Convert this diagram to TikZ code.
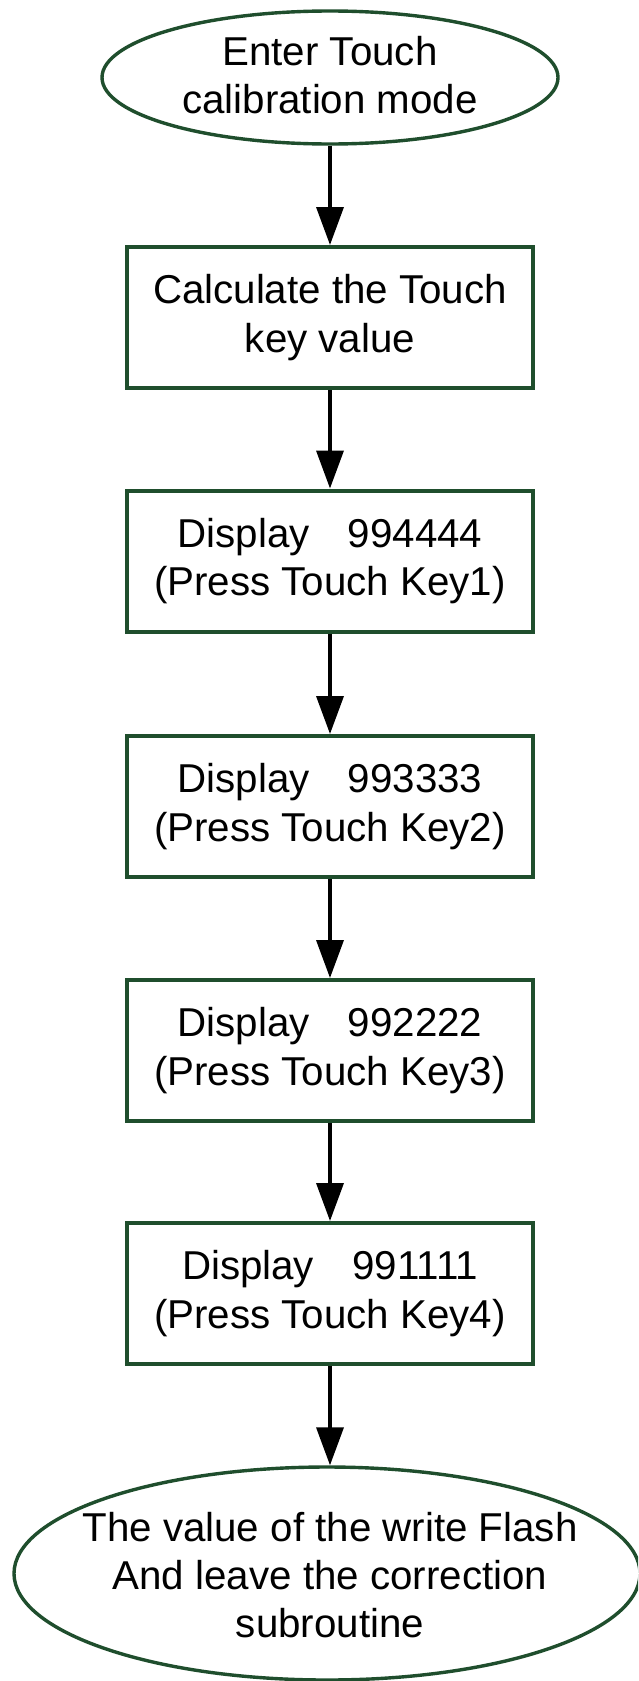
\documentclass[tikz,border=0pt]{standalone}
\usepackage{fontspec}
\setmainfont{Liberation Sans}
\usetikzlibrary{shapes.geometric,arrows.meta}
\definecolor{boxgreen}{RGB}{31,78,45}
\begin{document}
\begin{tikzpicture}[x=1pt,y=-1pt,
  stepbox/.style={draw=boxgreen,line width=4pt,rectangle,minimum width=406pt,minimum height=141pt,inner sep=0pt,align=center,font=\fontsize{40.3}{48.4}\selectfont},
  termshape/.style={draw=boxgreen,line width=3.4pt,ellipse,inner sep=0pt},
  termtext/.style={align=center,inner sep=0pt,font=\fontsize{40.3}{48.4}\selectfont},
  flow/.style={draw=black,line width=3.6pt,-{Triangle[length=38pt,width=27pt]}}]
\useasboundingbox (0,0) rectangle (638,1681);
\clip (0,0) rectangle (638,1681);
\fill[white] (0,0) rectangle (638,1681);
\node[termshape,minimum width=456pt,minimum height=133pt] (start) at (330,77.5) {};
\node[termtext] (starttxt) at (330,75) {Enter Touch\\calibration mode};
\node[stepbox] (calc) at (330,317.5) {Calculate the Touch\\key value};
\node[stepbox] (k1) at (330,561) {Display\hspace{0.95em}994444\\(Press Touch Key1)};
\node[stepbox] (k2) at (330,806.5) {Display\hspace{0.95em}993333\\(Press Touch Key2)};
\node[stepbox] (k3) at (330,1050.5) {Display\hspace{0.95em}992222\\(Press Touch Key3)};
\node[stepbox] (k4) at (330,1293.5) {Display\hspace{0.95em}991111\\(Press Touch Key4)};
\node[termshape,minimum width=626pt,minimum height=213pt] (finish) at (327,1573.5) {};
\node[termtext] (finishtxt) at (330,1575) {The value of the write Flash\\And leave the correction\\subroutine};
\draw[flow] (start) -- (calc);
\draw[flow] (calc) -- (k1);
\draw[flow] (k1) -- (k2);
\draw[flow] (k2) -- (k3);
\draw[flow] (k3) -- (k4);
\draw[flow] (k4) -- (k4 |- finish.north);
\end{tikzpicture}
\end{document}
